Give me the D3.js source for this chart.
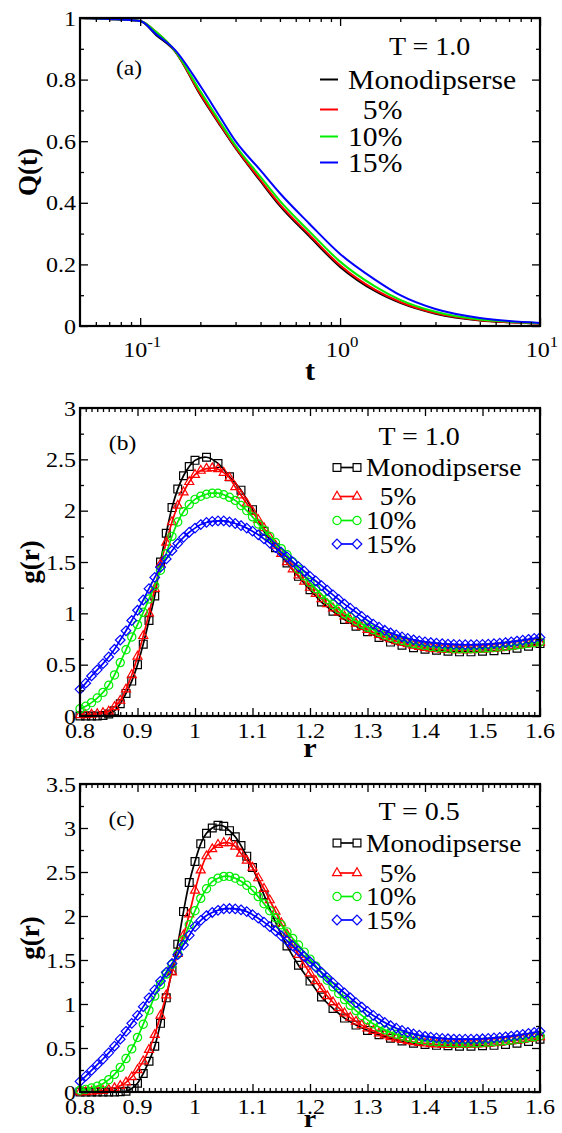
<!DOCTYPE html>
<html><head><meta charset="utf-8">
<script src="https://cdn.jsdelivr.net/npm/d3@7"></script>
<style>
body{margin:0;background:#fff}
svg{display:block}
text{font-family:"Liberation Serif","Times New Roman",serif;fill:#000}
</style>
</head><body>
<svg id="fig" width="562" height="1133"></svg>
<script>
// ---------------- DATA ----------------
// Panel (a): Q(t), T = 1.0
const tValues = [0.05, 0.07, 0.1, 0.12, 0.15, 0.2, 0.25, 0.3, 0.4, 0.5, 0.7, 1, 1.5, 2, 3, 5, 7, 10];
const qMono = [1.0, 0.997, 0.99, 0.945, 0.89, 0.75, 0.653, 0.577, 0.47, 0.39, 0.292, 0.192, 0.113, 0.075, 0.04, 0.018, 0.012, 0.008];
const q5    = [1.0, 0.997, 0.99, 0.955, 0.891, 0.753, 0.656, 0.58, 0.474, 0.395, 0.297, 0.197, 0.117, 0.078, 0.042, 0.019, 0.012, 0.008];
const q10   = [1.0, 0.997, 0.99, 0.955, 0.892, 0.762, 0.664, 0.586, 0.484, 0.406, 0.308, 0.209, 0.128, 0.085, 0.046, 0.021, 0.014, 0.009];
const q15   = [1.0, 0.997, 0.99, 0.948, 0.895, 0.779, 0.68, 0.60, 0.505, 0.431, 0.333, 0.234, 0.15, 0.10, 0.055, 0.026, 0.016, 0.01];

// r grids for g(r)
const rFine  = d3.range(80, 161).map(i => i / 100);                                   // 0.80 .. 1.60 step 0.01
const rMonoB = d3.range(80, 101).map(i => i / 100).concat(d3.range(51, 81).map(i => i / 50)); // 0.80..1.00, 1.02..1.60
const rMonoC = d3.range(80, 111).map(i => i / 100).concat(d3.range(56, 81).map(i => i / 50)); // 0.80..1.10, 1.12..1.60

// Panel (b): g(r), T = 1.0
const gMonoB = [0,0,0,0,0.005,0.02,0.05,0.12,0.22,0.34,
  0.50,0.70,0.93,1.17,1.50,1.78,2.03,2.21,2.34,2.43,
  2.49,
  2.52,2.46,2.33,2.20,2.01,1.80,1.64,1.49,1.36,1.23,
  1.11,1.02,0.94,0.875,0.82,0.765,0.72,0.69,0.665,0.65,
  0.64,0.63,0.625,0.625,0.63,0.635,0.645,0.66,0.68,0.705];
const g5B = [0.01,0.01,0.015,0.02,0.03,0.045,0.088,0.15,0.26,0.40,
  0.58,0.78,1.00,1.24,1.48,1.69,1.89,2.05,2.18,2.28,
  2.35,2.39,2.41,2.415,2.405,2.37,2.32,2.23,2.15,2.07,
  1.99,1.91,1.83,1.74,1.66,1.58,1.50,1.43,1.37,1.31,
  1.25,1.19,1.14,1.09,1.05,1.01,0.97,0.935,0.90,0.87,
  0.84,0.815,0.79,0.77,0.75,0.73,0.715,0.70,0.685,0.675,
  0.665,0.658,0.652,0.648,0.645,0.643,0.642,0.642,0.643,0.645,
  0.648,0.652,0.657,0.663,0.67,0.677,0.685,0.693,0.70,0.708,
  0.715];
const g10B = [0.07,0.095,0.13,0.175,0.23,0.30,0.40,0.52,0.645,0.77,
  0.89,1.01,1.14,1.27,1.42,1.58,1.75,1.89,1.99,2.06,
  2.11,2.14,2.16,2.17,2.17,2.155,2.13,2.10,2.05,2.00,
  1.94,1.87,1.81,1.75,1.69,1.63,1.57,1.50,1.43,1.365,
  1.30,1.24,1.185,1.135,1.085,1.04,0.995,0.96,0.925,0.895,
  0.865,0.84,0.815,0.79,0.77,0.75,0.735,0.72,0.705,0.695,
  0.685,0.677,0.67,0.665,0.66,0.657,0.655,0.655,0.655,0.657,
  0.66,0.664,0.668,0.673,0.679,0.686,0.693,0.70,0.707,0.714,
  0.72];
const g15B = [0.26,0.32,0.39,0.45,0.51,0.575,0.65,0.74,0.83,0.93,
  1.03,1.13,1.24,1.35,1.45,1.53,1.61,1.68,1.74,1.79,
  1.83,1.865,1.885,1.895,1.90,1.90,1.89,1.875,1.855,1.83,
  1.80,1.765,1.725,1.685,1.64,1.595,1.55,1.50,1.455,1.41,
  1.36,1.315,1.27,1.225,1.18,1.135,1.09,1.05,1.01,0.97,
  0.93,0.895,0.865,0.835,0.81,0.79,0.77,0.755,0.742,0.731,
  0.722,0.715,0.709,0.704,0.70,0.697,0.695,0.694,0.694,0.695,
  0.697,0.70,0.704,0.709,0.715,0.722,0.73,0.738,0.747,0.756,
  0.765];

// Panel (c): g(r), T = 0.5
const gMonoC = [0,0,0,0,0,0,0,0.002,0.008,0.04,
  0.10,0.21,0.35,0.52,0.78,1.07,1.38,1.68,2.05,2.38,
  2.62,2.82,2.94,3.0,3.03,3.02,2.97,2.90,2.80,2.68,
  2.55,
  2.24,1.93,1.66,1.44,1.26,1.08,0.95,0.84,0.76,0.70,
  0.65,0.61,0.58,0.555,0.54,0.53,0.525,0.52,0.52,0.525,
  0.53,0.54,0.555,0.575,0.60];
const g5C = [0,0,0.005,0.01,0.015,0.025,0.045,0.07,0.11,0.17,
  0.25,0.35,0.48,0.65,0.87,1.10,1.36,1.57,1.78,2.02,
  2.29,2.52,2.68,2.76,2.81,2.83,2.83,2.79,2.71,2.63,
  2.55,2.43,2.31,2.18,2.05,1.92,1.79,1.67,1.56,1.45,
  1.35,1.26,1.17,1.09,1.02,0.955,0.895,0.845,0.80,0.76,
  0.725,0.695,0.668,0.645,0.625,0.607,0.592,0.579,0.568,0.559,
  0.552,0.546,0.542,0.539,0.537,0.536,0.536,0.537,0.539,0.542,
  0.546,0.551,0.557,0.563,0.57,0.578,0.586,0.595,0.604,0.614,
  0.624];
const g10C = [0.02,0.03,0.045,0.065,0.095,0.14,0.20,0.28,0.38,0.49,
  0.62,0.77,0.93,1.09,1.22,1.34,1.45,1.57,1.73,1.90,
  2.06,2.20,2.31,2.39,2.43,2.45,2.45,2.43,2.395,2.35,
  2.29,2.22,2.14,2.06,1.98,1.90,1.82,1.745,1.67,1.59,
  1.51,1.43,1.35,1.27,1.195,1.12,1.05,0.985,0.925,0.87,
  0.82,0.775,0.738,0.706,0.679,0.656,0.637,0.621,0.607,0.595,
  0.585,0.577,0.57,0.565,0.561,0.558,0.556,0.556,0.557,0.559,
  0.562,0.566,0.571,0.577,0.584,0.591,0.599,0.608,0.617,0.627,
  0.637];
const g15C = [0.12,0.18,0.245,0.31,0.375,0.445,0.52,0.60,0.69,0.78,
  0.87,0.97,1.07,1.16,1.26,1.36,1.46,1.56,1.67,1.78,
  1.88,1.95,2.005,2.04,2.065,2.08,2.085,2.08,2.07,2.05,
  2.015,1.975,1.93,1.88,1.83,1.775,1.72,1.66,1.60,1.54,
  1.48,1.42,1.36,1.30,1.24,1.18,1.125,1.07,1.015,0.965,
  0.915,0.87,0.83,0.79,0.755,0.725,0.70,0.678,0.66,0.645,
  0.633,0.623,0.615,0.609,0.605,0.602,0.60,0.60,0.60,0.602,
  0.605,0.609,0.614,0.62,0.627,0.635,0.644,0.654,0.665,0.677,
  0.69];

// Labels
const seriesNames = ["Monodipserse", "  5%", "10%", "15%"];
const seriesColors = ["#000000", "#ff0000", "#00ee00", "#0000ff"];
const seriesMarkers = ["square", "triangle", "circle", "diamond"];
const yTicksA = [0, 0.2, 0.4, 0.6, 0.8, 1];
const yTicksB = [0, 0.5, 1, 1.5, 2, 2.5, 3];
const yTicksC = [0, 0.5, 1, 1.5, 2, 2.5, 3, 3.5];
const xTicksR = [0.8, 0.9, 1, 1.1, 1.2, 1.3, 1.4, 1.5, 1.6];
const xTicksT = [0.1, 1, 10];
const xTickExp = ["-1", "0", "1"];

// ---------------- DRAWING ----------------
const svg = d3.select("#fig");
const SX = 1.12;         // horizontal text stretch of the original figure
const L = 80, R = 540;
const TICK = 8, MINOR = 4;

function label(g, x, y, s, size, anchor, bold) {
  const t = g.append("text")
    .attr("transform", `translate(${x},${y}) scale(${SX},1)`)
    .attr("font-size", size)
    .attr("text-anchor", anchor || "start")
    .attr("xml:space", "preserve")
    .style("white-space", "pre")
    .text(s);
  if (bold) t.attr("font-weight", "bold");
  return t;
}

const markerPath = {
  square: "M-3.9,-3.9H3.9V3.9H-3.9Z",
  triangle: "M0,-5.2L4.5,2.6L-4.5,2.6Z",
  circle: d3.arc()({innerRadius: 0, outerRadius: 4.1, startAngle: 0, endAngle: 2 * Math.PI}),
  diamond: "M0,-4.8L4.8,0L0,4.8L-4.8,0Z"
};

function frameAndTicks(g, x, y, top, bottom, majX, minX, majY, minY) {
  const rm = s => s.select(".domain").remove();
  const style = s => s.selectAll("line").attr("stroke", "#000").attr("stroke-width", 1.3);
  g.append("g").attr("transform", `translate(0,${bottom})`)
    .call(d3.axisBottom(x).tickValues(majX).tickSize(-TICK).tickFormat("")).call(rm).call(style);
  g.append("g").attr("transform", `translate(0,${bottom})`)
    .call(d3.axisBottom(x).tickValues(minX).tickSize(-MINOR).tickFormat("")).call(rm).call(style);
  g.append("g").attr("transform", `translate(0,${top})`)
    .call(d3.axisTop(x).tickValues(majX).tickSize(-TICK).tickFormat("")).call(rm).call(style);
  g.append("g").attr("transform", `translate(0,${top})`)
    .call(d3.axisTop(x).tickValues(minX).tickSize(-MINOR).tickFormat("")).call(rm).call(style);
  g.append("g").attr("transform", `translate(${L},0)`)
    .call(d3.axisLeft(y).tickValues(majY).tickSize(-TICK).tickFormat("")).call(rm).call(style);
  g.append("g").attr("transform", `translate(${L},0)`)
    .call(d3.axisLeft(y).tickValues(minY).tickSize(-MINOR).tickFormat("")).call(rm).call(style);
  g.append("g").attr("transform", `translate(${R},0)`)
    .call(d3.axisRight(y).tickValues(majY).tickSize(-TICK).tickFormat("")).call(rm).call(style);
  g.append("g").attr("transform", `translate(${R},0)`)
    .call(d3.axisRight(y).tickValues(minY).tickSize(-MINOR).tickFormat("")).call(rm).call(style);
  g.append("rect").attr("x", L).attr("y", top).attr("width", R - L).attr("height", bottom - top)
    .attr("fill", "none").attr("stroke", "#000").attr("stroke-width", 2.2);
}

function yLabels(g, y, ticks) {
  ticks.forEach(v => label(g, 76, y(v) + 7.5, String(v), 21.5, "end"));
}

function yTitle(g, cx, cy, s) {
  g.append("text").attr("transform", `translate(${cx},${cy}) rotate(-90)`)
    .attr("text-anchor", "middle").attr("font-size", 27).attr("font-weight", "bold").text(s);
}

// ---------- Panel (a) ----------
(function () {
  const top = 18, bottom = 326;
  const g = svg.append("g");
  const x = d3.scaleLog().domain([0.05, 10]).range([L, R]);
  const y = d3.scaleLinear().domain([0, 1]).range([bottom, top]);
  const minX = [0.06, 0.07, 0.08, 0.09, 0.2, 0.3, 0.4, 0.5, 0.6, 0.7, 0.8, 0.9, 2, 3, 4, 5, 6, 7, 8, 9];
  const minY = [0.1, 0.3, 0.5, 0.7, 0.9];
  const series = [qMono, q5, q10, q15];
  const line = d3.line().x(d => x(d[0])).y(d => y(d[1])).curve(d3.curveMonotoneX);
  series.forEach((q, i) => {
    g.append("path").datum(tValues.map((t, j) => [t, q[j]]))
      .attr("d", line).attr("fill", "none").attr("stroke", seriesColors[i]).attr("stroke-width", 2);
  });
  frameAndTicks(g, x, y, top, bottom, xTicksT, minX, yTicksA, minY);
  yLabels(g, y, yTicksA);
  xTicksT.forEach((v, i) => {
    const t = g.append("text").attr("transform", `translate(${x(v) + 2},${bottom + 31}) scale(${SX},1)`)
      .attr("font-size", 21.5).attr("text-anchor", "middle");
    t.append("tspan").text("10");
    t.append("tspan").attr("dy", -10).attr("font-size", 15).text(xTickExp[i]);
  });
  label(g, 310, 380, "t", 27, "middle", true);
  yTitle(g, 37, 172, "Q(t)");
  label(g, 129, 75, "(a)", 21, "middle");
  label(g, 389, 55, "T = 1.0", 25, "start");
  const base = [88.5, 118.5, 145.5, 171.5];
  seriesNames.forEach((n, i) => {
    g.append("line").attr("x1", 320).attr("x2", 338).attr("y1", base[i] - 9).attr("y2", base[i] - 9)
      .attr("stroke", seriesColors[i]).attr("stroke-width", 2);
    label(g, 348, base[i], n, 26.5, "start");
  });
})();

// ---------- Panels (b) and (c) ----------
function grPanel(top, bottom, yMax, yTicks, sets, tag, tLabel, tagPos, legBase, rBase, rSize) {
  const g = svg.append("g");
  const x = d3.scaleLinear().domain([0.8, 1.6]).range([L, R]);
  const y = d3.scaleLinear().domain([0, yMax]).range([bottom, top]);
  const minX = d3.range(80, 161).filter(i => i % 10 !== 0).map(i => i / 100);
  const minY = yTicks.slice(0, -1).map(v => v + 0.25);
  const line = d3.line().x(d => x(d[0])).y(d => y(d[1])).curve(d3.curveCatmullRom.alpha(0.5));
  sets.forEach((s, i) => {
    const pts = s.r.map((r, j) => [r, s.g[j]]);
    g.append("path").datum(pts).attr("d", line).attr("fill", "none")
      .attr("stroke", seriesColors[i]).attr("stroke-width", 1.7);
    g.selectAll(null).data(pts).enter().append("path")
      .attr("transform", d => `translate(${x(d[0])},${y(d[1])})`)
      .attr("d", markerPath[seriesMarkers[i]])
      .attr("fill", "none").attr("stroke", seriesColors[i]).attr("stroke-width", 1.2);
  });
  frameAndTicks(g, x, y, top, bottom, xTicksR, minX, yTicks, minY);
  yLabels(g, y, yTicks);
  xTicksR.forEach(v => label(g, x(v), bottom + 21.5, String(v), 21.5, "middle"));
  label(g, 310, rBase, "r", rSize, "middle", true);
  yTitle(g, 39, (top + bottom) / 2, "g(r)");
  label(g, tagPos[0], tagPos[1], tag, 21, "middle");
  label(g, 378.5, legBase[0], tLabel, 25, "start");
  seriesNames.forEach((n, i) => {
    const yy = legBase[i + 1] - 8.5;
    g.append("line").attr("x1", 337).attr("x2", 357).attr("y1", yy).attr("y2", yy)
      .attr("stroke", seriesColors[i]).attr("stroke-width", 1.7);
    [337, 357].forEach(xx => g.append("path").attr("transform", `translate(${xx},${yy})`)
      .attr("d", markerPath[seriesMarkers[i]]).attr("fill", "#fff")
      .attr("stroke", seriesColors[i]).attr("stroke-width", 1.2));
    label(g, 366, legBase[i + 1], n, 24.5, "start");
  });
}

grPanel(408, 716, 3, yTicksB, [
  {r: rMonoB, g: gMonoB}, {r: rFine, g: g5B}, {r: rFine, g: g10B}, {r: rFine, g: g15B}
], "(b)", "T = 1.0", [122.5, 450], [445, 476, 505, 529, 552.5], 756.5, 27);

grPanel(784, 1092, 3.5, yTicksC, [
  {r: rMonoC, g: gMonoC}, {r: rFine, g: g5C}, {r: rFine, g: g10C}, {r: rFine, g: g15C}
], "(c)", "T = 0.5", [121.5, 826], [820, 851.5, 881.5, 905, 928.5], 1127, 25);
</script>
</body></html>
